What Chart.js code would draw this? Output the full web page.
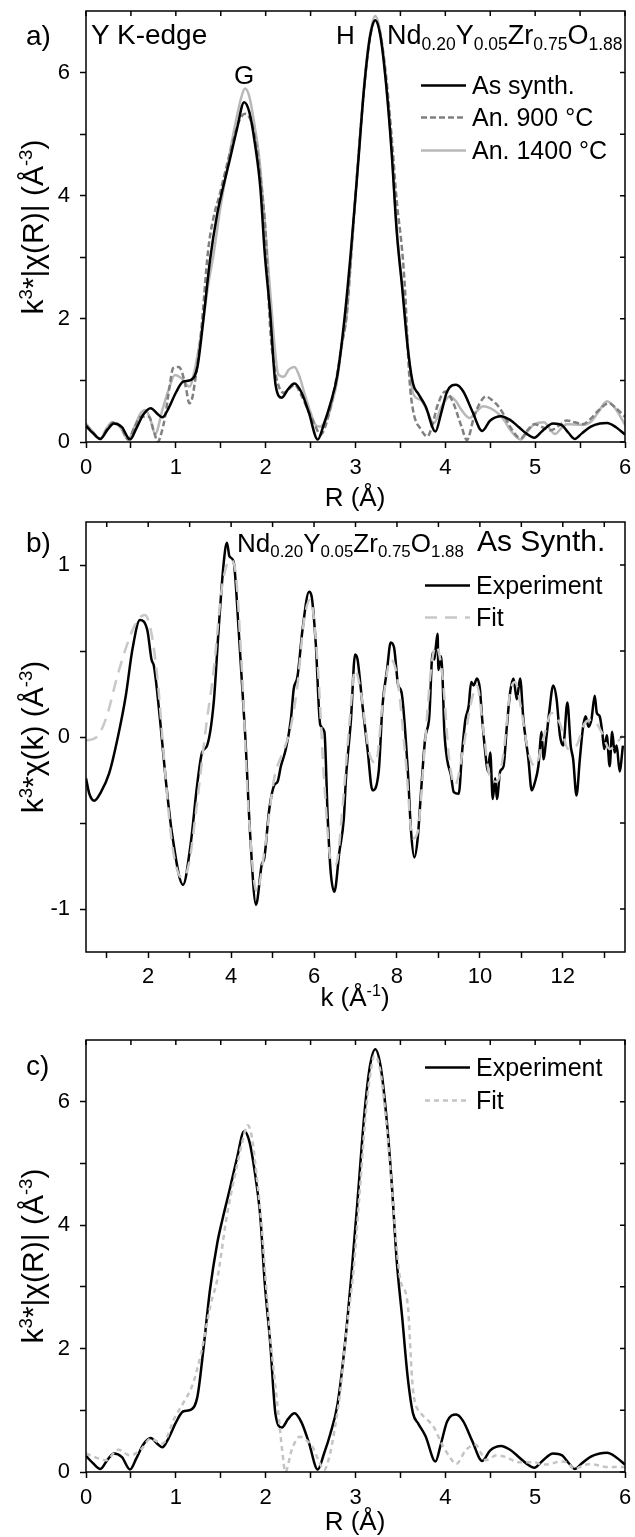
<!DOCTYPE html>
<html>
<head>
<meta charset="utf-8">
<script src="https://cdn.jsdelivr.net/npm/chart.js@4.4.1/dist/chart.umd.min.js"></script>
<style>
body{margin:0;background:#fff;}
#page{position:relative;width:635px;height:1537px;font-family:"Liberation Sans",Arial,sans-serif;color:#000;overflow:hidden;}
canvas{position:absolute;left:0;}
.t{position:absolute;white-space:nowrap;line-height:1;font-size:26px;}
.yt{position:absolute;white-space:nowrap;line-height:1;font-size:30px;transform:translate(-50%,-50%) rotate(-90deg);}
.xt{position:absolute;white-space:nowrap;line-height:1;font-size:26px;transform:translate(-50%,-50%);}
sup{font-size:0.62em;vertical-align:0.6em;line-height:0;}
sub{font-size:0.65em;vertical-align:-0.32em;line-height:0;}
.leg{position:absolute;font-size:25px;line-height:1;white-space:nowrap;display:flex;align-items:center;transform:translateY(-50%);}
.leg svg{margin-right:6px;}
</style>
</head>
<body>
<div id="page">
  <canvas id="chartA" width="635" height="500" style="top:0px"></canvas>
  <canvas id="chartB" width="635" height="520" style="top:500px"></canvas>
  <canvas id="chartC" width="635" height="517" style="top:1020px"></canvas>

  <!-- panel a labels -->
  <div class="t" style="left:26px;top:22px;font-size:28px">a)</div>
  <div class="t" style="left:91px;top:21px;font-size:28px">Y K-edge</div>
  <div class="t" style="left:234px;top:62px">G</div>
  <div class="t" style="left:336px;top:22px">H</div>
  <div class="t" style="left:387px;top:22px;font-size:27px">Nd<sub>0.20</sub>Y<sub>0.05</sub>Zr<sub>0.75</sub>O<sub>1.88</sub></div>
  <div class="leg" style="left:421px;top:85px"><svg width="45" height="6"><line x1="0" y1="3" x2="45" y2="3" stroke="#000" stroke-width="2.5"/></svg>As synth.</div>
  <div class="leg" style="left:421px;top:117px"><svg width="45" height="6"><line x1="0" y1="3" x2="45" y2="3" stroke="#808080" stroke-width="2.5" stroke-dasharray="6 3"/></svg>An. 900 °C</div>
  <div class="leg" style="left:421px;top:150px"><svg width="45" height="6"><line x1="0" y1="3" x2="45" y2="3" stroke="#b8b8b8" stroke-width="2.5"/></svg>An. 1400 °C</div>
  <div class="yt" style="left:33px;top:227px">k<sup>3</sup>*|χ(R)| (Å<sup>-3</sup>)</div>
  <div class="xt" style="left:355px;top:497px">R (Å)</div>

  <!-- panel b labels -->
  <div class="t" style="left:26px;top:529px;font-size:28px">b)</div>
  <div class="t" style="left:237px;top:530px">Nd<sub>0.20</sub>Y<sub>0.05</sub>Zr<sub>0.75</sub>O<sub>1.88</sub></div>
  <div class="t" style="left:477px;top:526px;font-size:30px">As Synth.</div>
  <div class="leg" style="left:425px;top:585px"><svg width="45" height="6"><line x1="0" y1="3" x2="45" y2="3" stroke="#000" stroke-width="2.5"/></svg>Experiment</div>
  <div class="leg" style="left:425px;top:617px"><svg width="45" height="6"><line x1="0" y1="3" x2="45" y2="3" stroke="#c8c8c8" stroke-width="2.5" stroke-dasharray="12 8"/></svg>Fit</div>
  <div class="yt" style="left:33px;top:737px">k<sup>3</sup>*χ(k) (Å<sup>-3</sup>)</div>
  <div class="xt" style="left:355px;top:997px">k (Å<sup>-1</sup>)</div>

  <!-- panel c labels -->
  <div class="t" style="left:26px;top:1052px;font-size:28px">c)</div>
  <div class="leg" style="left:425px;top:1067px"><svg width="45" height="6"><line x1="0" y1="3" x2="45" y2="3" stroke="#000" stroke-width="2.5"/></svg>Experiment</div>
  <div class="leg" style="left:425px;top:1100px"><svg width="45" height="6"><line x1="0" y1="3" x2="45" y2="3" stroke="#c4c4c4" stroke-width="2.5" stroke-dasharray="5 4"/></svg>Fit</div>
  <div class="yt" style="left:33px;top:1256px">k<sup>3</sup>*|χ(R)| (Å<sup>-3</sup>)</div>
  <div class="xt" style="left:355px;top:1521px">R (Å)</div>
</div>

<script>
// ---- tick positions and the ones that get a label ----
var rTicks = [0, 0.5, 1, 1.5, 2, 2.5, 3, 3.5, 4, 4.5, 5, 5.5, 6];
var rLabels = [0, 1, 2, 3, 4, 5, 6];
var magTicks = [0, 1, 2, 3, 4, 5, 6];
var magLabels = [0, 2, 4, 6];
var kTicks = [1, 2, 3, 4, 5, 6, 7, 8, 9, 10, 11, 12, 13];
var kLabels = [2, 4, 6, 8, 10, 12];
var chiKTicks = [-1, -0.5, 0, 0.5, 1];
var chiKLabels = [-1, 0, 1];

// ---- panel a / c : |chi(R)|, Y K-edge ----
var rAsSynth = [0.00,0.08,0.16,0.24,0.31,0.40,0.49,0.56,0.64,0.72,0.80,0.85,0.92,1.00,1.08,1.17,1.24,1.30,1.38,1.46,1.52,1.60,1.68,1.76,1.82,1.88,1.94,1.99,2.05,2.11,2.18,2.25,2.32,2.40,2.48,2.58,2.65,2.72,2.80,2.88,2.95,3.02,3.10,3.16,3.22,3.28,3.34,3.40,3.46,3.52,3.58,3.64,3.70,3.78,3.89,3.95,4.02,4.12,4.20,4.30,4.41,4.50,4.62,4.72,4.82,4.90,4.99,5.08,5.20,5.30,5.37,5.44,5.52,5.62,5.72,5.80,5.90,6.00];
var chiAsSynth = [0.26,0.14,0.05,0.20,0.30,0.24,0.04,0.22,0.45,0.55,0.45,0.40,0.55,0.80,0.98,1.01,1.22,1.90,2.95,3.70,4.10,4.58,5.08,5.52,5.35,4.85,4.14,3.06,2.10,0.93,0.72,0.86,0.95,0.80,0.48,0.04,0.30,0.62,1.10,2.04,3.12,4.35,5.82,6.57,6.85,6.57,5.82,4.75,3.40,2.50,1.55,0.95,0.78,0.58,0.17,0.45,0.82,0.93,0.82,0.50,0.18,0.35,0.42,0.36,0.24,0.14,0.07,0.18,0.30,0.27,0.15,0.05,0.14,0.25,0.30,0.31,0.24,0.12];

var rAn900 = [0.00,0.08,0.16,0.23,0.31,0.39,0.47,0.54,0.61,0.70,0.76,0.80,0.84,0.88,0.93,0.97,1.03,1.06,1.11,1.15,1.18,1.21,1.28,1.36,1.42,1.49,1.56,1.64,1.70,1.77,1.84,1.90,1.95,2.00,2.05,2.10,2.14,2.20,2.26,2.32,2.40,2.47,2.54,2.61,2.65,2.72,2.79,2.85,2.90,2.96,3.02,3.10,3.16,3.22,3.28,3.34,3.40,3.46,3.52,3.55,3.60,3.64,3.73,3.80,3.86,3.91,4.00,4.09,4.15,4.18,4.24,4.32,4.38,4.45,4.52,4.59,4.66,4.72,4.84,4.92,4.99,5.08,5.17,5.26,5.35,5.44,5.53,5.62,5.71,5.82,5.90,6.00];
var chiAn900 = [0.28,0.15,0.05,0.20,0.32,0.24,0.04,0.24,0.41,0.41,0.15,0.00,0.15,0.41,0.90,1.20,1.22,1.17,0.90,0.63,0.70,0.95,1.77,3.12,3.65,4.03,4.45,4.90,5.20,5.33,5.20,4.79,4.20,3.39,1.85,1.20,0.93,0.80,0.86,0.93,0.75,0.52,0.30,0.12,0.20,0.55,1.06,1.60,2.04,3.20,4.40,5.80,6.55,6.85,6.60,5.95,5.00,3.90,3.10,2.50,1.04,0.52,0.20,0.09,0.30,0.58,0.82,0.63,0.38,0.25,0.03,0.41,0.62,0.74,0.68,0.58,0.42,0.25,0.06,0.20,0.29,0.24,0.19,0.26,0.35,0.32,0.29,0.38,0.52,0.63,0.55,0.41];

var rAn1400 = [0.00,0.08,0.16,0.22,0.29,0.38,0.47,0.54,0.61,0.66,0.71,0.77,0.85,0.92,0.99,1.06,1.15,1.21,1.30,1.36,1.42,1.49,1.56,1.62,1.67,1.72,1.77,1.82,1.88,1.93,1.97,2.01,2.05,2.10,2.14,2.20,2.26,2.32,2.38,2.43,2.50,2.56,2.61,2.66,2.70,2.75,2.79,2.85,2.90,2.96,3.02,3.10,3.16,3.22,3.28,3.34,3.40,3.46,3.52,3.55,3.60,3.64,3.73,3.80,3.87,3.96,4.05,4.12,4.18,4.27,4.35,4.42,4.50,4.59,4.66,4.72,4.84,4.92,4.99,5.10,5.16,5.22,5.30,5.35,5.53,5.62,5.70,5.80,5.89,6.00];
var chiAn1400 = [0.30,0.16,0.05,0.20,0.32,0.24,0.04,0.25,0.47,0.52,0.40,0.13,0.52,0.85,1.09,1.04,0.90,1.17,1.93,2.55,3.05,3.75,4.35,4.85,5.22,5.55,5.74,5.60,5.11,4.60,3.93,3.20,2.45,1.55,1.10,1.06,1.18,1.22,1.05,0.80,0.48,0.27,0.25,0.32,0.44,0.70,0.95,1.60,2.04,3.20,4.40,5.85,6.60,6.92,6.62,5.85,4.80,3.45,2.55,2.10,1.30,0.79,0.68,0.50,0.30,0.58,0.74,0.66,0.52,0.39,0.50,0.58,0.55,0.46,0.34,0.20,0.04,0.18,0.29,0.32,0.22,0.13,0.24,0.29,0.28,0.33,0.48,0.66,0.55,0.28];

var rFit = [0.00,0.10,0.22,0.36,0.49,0.61,0.72,0.85,0.99,1.08,1.19,1.28,1.39,1.46,1.56,1.62,1.67,1.74,1.80,1.85,1.88,1.95,2.00,2.05,2.10,2.14,2.18,2.22,2.29,2.38,2.45,2.52,2.60,2.65,2.70,2.74,2.83,2.90,2.98,3.05,3.12,3.17,3.21,3.27,3.33,3.40,3.46,3.50,3.58,3.64,3.73,3.80,3.87,3.96,4.05,4.12,4.23,4.34,4.40,4.45,4.57,4.68,4.81,4.99,5.08,5.17,5.28,5.35,5.44,5.53,5.62,5.72,5.80,6.00];
var chiFitR = [0.30,0.24,0.19,0.36,0.27,0.36,0.54,0.46,0.89,1.11,1.43,1.92,2.73,3.11,4.08,4.55,4.89,5.35,5.62,5.40,5.05,4.08,3.11,2.20,1.50,0.96,0.40,0.00,0.36,0.57,0.52,0.41,0.15,0.03,0.20,0.46,1.30,2.30,3.30,4.60,5.90,6.50,6.75,6.55,5.85,4.70,3.60,3.11,2.73,1.33,0.95,0.85,0.73,0.46,0.24,0.13,0.36,0.44,0.30,0.19,0.27,0.24,0.16,0.16,0.12,0.13,0.17,0.16,0.05,0.10,0.13,0.10,0.08,0.08];

// ---- panel b : k^3 chi(k) ----
var kExp = [0.50,0.58,0.70,0.86,1.06,1.26,1.46,1.62,1.80,1.98,2.08,2.14,2.30,2.42,2.58,2.84,3.02,3.18,3.30,3.42,3.58,3.70,3.82,3.90,3.96,4.06,4.18,4.34,4.46,4.60,4.74,4.80,4.92,5.04,5.12,5.20,5.32,5.44,5.51,5.60,5.72,5.88,5.94,6.04,6.15,6.25,6.33,6.40,6.49,6.61,6.72,6.77,6.89,6.99,7.05,7.17,7.29,7.41,7.56,7.65,7.76,7.85,7.93,8.03,8.11,8.26,8.34,8.42,8.50,8.58,8.68,8.78,8.86,8.90,8.94,8.98,9.00,9.06,9.10,9.14,9.21,9.30,9.37,9.49,9.57,9.65,9.73,9.79,9.85,9.93,10.00,10.05,10.13,10.19,10.25,10.31,10.37,10.41,10.49,10.57,10.65,10.73,10.81,10.89,10.97,11.05,11.17,11.25,11.33,11.41,11.49,11.53,11.61,11.67,11.77,11.85,11.93,12.01,12.11,12.19,12.25,12.33,12.41,12.49,12.55,12.62,12.69,12.77,12.82,12.89,12.95,13.00,13.06,13.13,13.19,13.25,13.30,13.37,13.45];
var chiExp = [-0.24,-0.33,-0.37,-0.32,-0.21,-0.01,0.24,0.51,0.68,0.62,0.45,0.41,0.065,-0.24,-0.57,-0.86,-0.63,-0.28,-0.09,-0.05,0.20,0.63,1.01,1.13,1.05,1.02,0.63,0.01,-0.57,-0.975,-0.74,-0.705,-0.42,-0.28,-0.26,-0.17,-0.07,0.10,0.28,0.35,0.62,0.845,0.82,0.55,0.07,0.03,-0.47,-0.78,-0.90,-0.67,-0.47,-0.24,0.10,0.48,0.45,0.18,-0.07,-0.31,-0.20,0.18,0.39,0.55,0.52,0.30,0.26,-0.19,-0.55,-0.70,-0.59,-0.32,-0.01,0.12,0.49,0.45,0.53,0.60,0.39,0.47,0.34,0.05,-0.13,-0.22,-0.32,-0.33,-0.09,0.10,0.18,0.32,0.30,0.34,0.28,0.12,-0.09,-0.20,-0.09,-0.36,-0.24,-0.36,-0.20,-0.17,0.06,0.26,0.34,0.22,0.34,0.10,-0.13,-0.31,-0.26,-0.17,0.03,-0.13,0.01,0.14,0.30,0.22,0.01,-0.05,0.20,-0.05,-0.13,-0.34,-0.13,0.06,0.12,0.06,0.10,0.24,0.14,0.12,0.03,-0.07,0.01,-0.17,0.03,-0.09,-0.05,-0.20,-0.05];

var kFit = [0.50,0.76,1.00,1.24,1.48,1.72,1.92,2.08,2.24,2.40,2.58,2.82,2.98,3.18,3.38,3.58,3.78,3.98,4.10,4.26,4.42,4.62,4.80,5.04,5.28,5.44,5.60,5.76,5.91,6.08,6.25,6.41,6.53,6.69,6.85,6.99,7.13,7.33,7.49,7.65,7.85,8.01,8.21,8.38,8.50,8.66,8.82,8.94,9.10,9.26,9.40,9.61,9.77,9.93,10.09,10.25,10.41,10.57,10.73,10.85,11.01,11.17,11.33,11.53,11.73,11.93,12.13,12.33,12.53,12.73,12.93,13.13,13.45];
var chiFitK = [-0.02,0.00,0.12,0.34,0.53,0.67,0.71,0.60,0.30,-0.18,-0.63,-0.82,-0.74,-0.38,0.03,0.39,0.87,1.03,0.97,0.39,-0.43,-0.90,-0.67,-0.24,-0.07,0.06,0.30,0.68,0.80,0.45,-0.28,-0.72,-0.74,-0.40,0.07,0.39,0.26,-0.09,-0.15,0.18,0.45,0.34,-0.13,-0.59,-0.55,-0.09,0.39,0.53,0.35,-0.13,-0.28,-0.05,0.18,0.30,0.03,-0.24,-0.26,-0.09,0.26,0.32,0.14,-0.09,-0.17,-0.01,0.14,0.08,-0.07,-0.05,0.08,0.10,0.03,-0.07,0.01];

function pts(xs, ys) {
  return xs.map(function (x, i) { return { x: x, y: ys[i] }; });
}

Chart.defaults.font.family = '"Liberation Sans", Arial, sans-serif';
Chart.defaults.color = '#000';

// box round the plot plus the small inward ticks on top and right
var framePlugin = {
  id: 'frame',
  afterDraw: function (chart) {
    var ctx = chart.ctx, a = chart.chartArea;
    var xs = chart.scales.x, ys = chart.scales.y;
    ctx.save();
    ctx.strokeStyle = '#000';
    ctx.lineWidth = 1.5;
    ctx.strokeRect(a.left, a.top, a.right - a.left, a.bottom - a.top);
    ctx.beginPath();
    xs.ticks.forEach(function (t) {
      var px = xs.getPixelForValue(t.value);
      ctx.moveTo(px, a.top); ctx.lineTo(px, a.top + 5);
    });
    ys.ticks.forEach(function (t) {
      var py = ys.getPixelForValue(t.value);
      ctx.moveTo(a.right, py); ctx.lineTo(a.right - 5, py);
    });
    ctx.stroke();
    ctx.restore();
  }
};

function axisOpts(min, max, tickVals, labelVals, pad, fitFn) {
  return {
    type: 'linear', min: min, max: max,
    afterBuildTicks: function (s) {
      s.ticks = tickVals.map(function (v) { return { value: v }; });
    },
    ticks: { autoSkip: false, maxRotation: 0, color: '#000', font: { size: 22 }, padding: pad,
             callback: function (v) { return labelVals.indexOf(v) >= 0 ? v : ''; } },
    grid: { drawOnChartArea: false, tickLength: 6, tickColor: '#000', tickWidth: 1.5 },
    border: { display: false },
    afterFit: function (s) {
      // keep the plot box where the figure has it
      s.paddingTop = 0; s.paddingBottom = 0; s.paddingLeft = 0; s.paddingRight = 0;
      fitFn(s);
    }
  };
}

function makeChart(id, datasets, xs, ys, pad) {
  return new Chart(document.getElementById(id), {
    type: 'line',
    data: { datasets: datasets },
    options: {
      responsive: false, animation: false, events: [],
      layout: { padding: pad },
      elements: { point: { radius: 0 }, line: { cubicInterpolationMode: 'monotone' } },
      plugins: { legend: { display: false }, tooltip: { enabled: false } },
      scales: { x: xs, y: ys }
    },
    plugins: [framePlugin]
  });
}

var yWidth = function (s) { s.width = 86; };

// a)
makeChart('chartA', [
  { data: pts(rAsSynth, chiAsSynth), borderColor: '#000', borderWidth: 2.5 },
  { data: pts(rAn900, chiAn900), borderColor: '#808080', borderWidth: 2.5, borderDash: [6, 3] },
  { data: pts(rAn1400, chiAn1400), borderColor: '#b8b8b8', borderWidth: 2.5 }
],
  axisOpts(0, 6, rTicks, rLabels, 7, function (s) { s.height = 58; }),
  axisOpts(0, 7, magTicks, magLabels, 10, yWidth),
  { top: 11, right: 10, left: 0, bottom: 0 });

// b)
makeChart('chartB', [
  { data: pts(kExp, chiExp), borderColor: '#000', borderWidth: 2.5, order: 1 },
  { data: pts(kFit, chiFitK), borderColor: '#c8c8c8', borderWidth: 2.5, borderDash: [12, 8], order: 0 }
],
  axisOpts(0.5, 13.5, kTicks, kLabels, 6, function (s) { s.height = 68; }),
  axisOpts(-1.25, 1.25, chiKTicks, chiKLabels, 10, yWidth),
  { top: 22, right: 10, left: 0, bottom: 0 });

// c)
makeChart('chartC', [
  { data: pts(rAsSynth, chiAsSynth), borderColor: '#000', borderWidth: 2.5, order: 1 },
  { data: pts(rFit, chiFitR), borderColor: '#c4c4c4', borderWidth: 2.5, borderDash: [5, 4], order: 0 }
],
  axisOpts(0, 6, rTicks, rLabels, 7, function (s) { s.height = 65; }),
  axisOpts(0, 7, magTicks, magLabels, 10, yWidth),
  { top: 20, right: 10, left: 0, bottom: 0 });
</script>
</body>
</html>
